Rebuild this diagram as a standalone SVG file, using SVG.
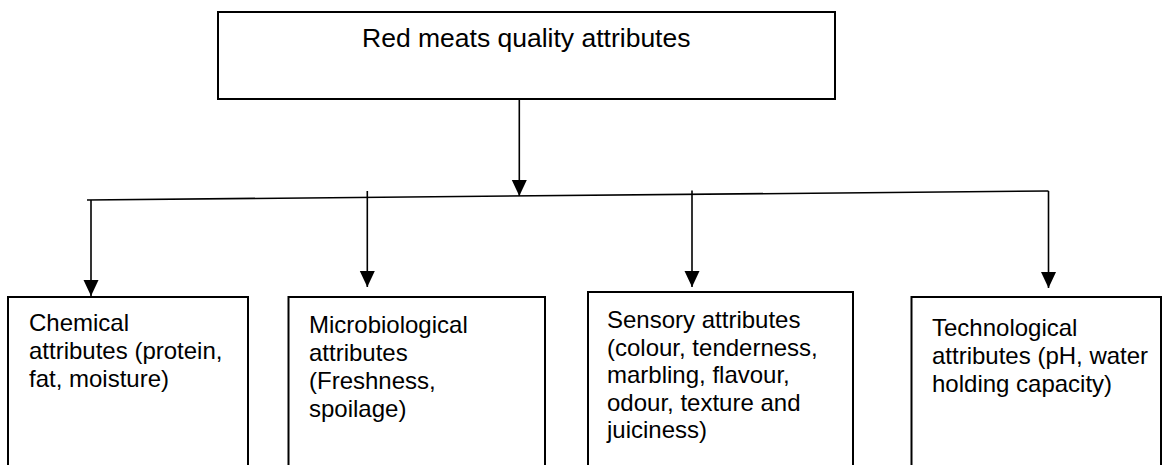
<svg xmlns="http://www.w3.org/2000/svg" width="1162" height="465" viewBox="0 0 1162 465">
<defs>
<marker id="ah" viewBox="0 0 16 16" refX="16" refY="8" markerWidth="16" markerHeight="16" markerUnits="userSpaceOnUse" orient="auto">
<path d="M0,0.5 L16,8 L0,15.5 Z" fill="#000"/>
</marker>
<style>
.box{fill:#fff;stroke:#000;stroke-width:2}
.conn{fill:none;stroke:#000;stroke-width:1.6}
.arr{fill:none;stroke:#000;stroke-width:1.6;marker-end:url(#ah)}
.t{font-family:"Liberation Sans",Arial,sans-serif;font-size:24px;fill:#000}
.title{font-family:"Liberation Sans",Arial,sans-serif;font-size:26.5px;fill:#000}
</style>
</defs>
<rect x="0" y="0" width="1162" height="465" fill="#fff"/>
<g id="connectors">
<line class="arr" x1="519.3" y1="99" x2="519.3" y2="196"/>
<line class="conn" x1="87" y1="200" x2="1048.5" y2="191"/>
<polyline class="arr" points="91,200 91,296"/>
<line class="arr" x1="367.3" y1="191" x2="367.3" y2="287"/>
<line class="arr" x1="692" y1="190.5" x2="692" y2="287"/>
<polyline class="arr" points="1048.5,191 1048.5,288"/>
</g>
<g id="top">
<rect class="box" x="218" y="12" width="617" height="87"/>
<text class="title" x="362" y="47">Red meats quality attributes</text>
</g>
<g id="chemical">
<rect class="box" x="8" y="297" width="240" height="180"/>
<text class="t" x="29" y="331">Chemical</text>
<text class="t" x="29" y="359">attributes (protein,</text>
<text class="t" x="29" y="387">fat, moisture)</text>
</g>
<g id="microbiological">
<rect class="box" x="288.5" y="297" width="256.5" height="180"/>
<text class="t" x="309" y="333">Microbiological</text>
<text class="t" x="309" y="361">attributes</text>
<text class="t" x="309" y="389">(Freshness,</text>
<text class="t" x="309" y="417">spoilage)</text>
</g>
<g id="sensory">
<rect class="box" x="588" y="292" width="265" height="185"/>
<text class="t" x="607" y="328">Sensory attributes</text>
<text class="t" x="607" y="355.5">(colour, tenderness,</text>
<text class="t" x="607" y="383">marbling, flavour,</text>
<text class="t" x="607" y="410.5">odour, texture and</text>
<text class="t" x="607" y="438">juiciness)</text>
</g>
<g id="technological">
<rect class="box" x="911.5" y="297" width="249.5" height="180"/>
<text class="t" x="932" y="336">Technological</text>
<text class="t" x="932" y="364">attributes (pH, water</text>
<text class="t" x="932" y="392">holding capacity)</text>
</g>
</svg>
